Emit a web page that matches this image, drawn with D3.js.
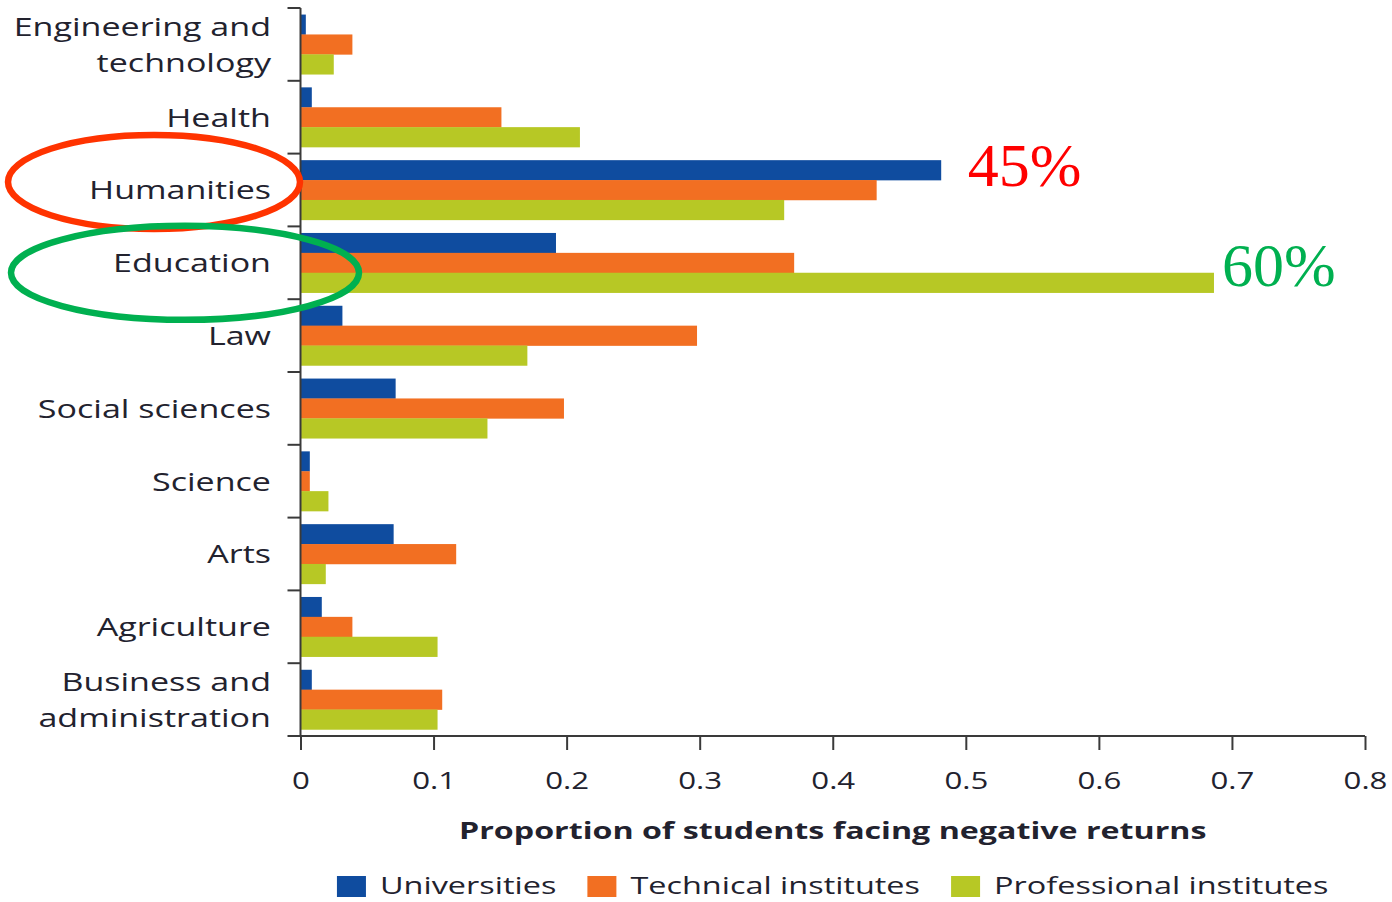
<!DOCTYPE html>
<html>
<head>
<meta charset="utf-8">
<script src="https://cdn.jsdelivr.net/npm/d3@7"></script>
<style>
  body { margin: 0; background: #fff; }
  svg text { font-family: 'Open Sans', 'DejaVu Sans', sans-serif; fill: #22222e; }
</style>
</head>
<body>
<div id="chart"></div>
<script>
// Data
var categories = ['Engineering and technology', 'Health', 'Humanities', 'Education', 'Law',
                  'Social sciences', 'Science', 'Arts', 'Agriculture', 'Business and administration'];
var category_lines = [['Engineering and', 'technology'], ['Health'], ['Humanities'], ['Education'], ['Law'],
                      ['Social sciences'], ['Science'], ['Arts'], ['Agriculture'], ['Business and', 'administration']];

var series_names = ['Universities', 'Technical institutes', 'Professional institutes'];
var universities = [0.004, 0.0085, 0.4815, 0.192, 0.0315, 0.0715, 0.007, 0.070, 0.016, 0.0085];
var technical    = [0.039, 0.151, 0.433, 0.371, 0.298, 0.198, 0.007, 0.117, 0.039, 0.1065];
var professional = [0.025, 0.210, 0.3635, 0.6865, 0.1705, 0.1405, 0.021, 0.019, 0.103, 0.103];

var x_ticks       = [0, 0.1, 0.2, 0.3, 0.4, 0.5, 0.6, 0.7, 0.8];
var x_tick_labels = ['0', '0.1', '0.2', '0.3', '0.4', '0.5', '0.6', '0.7', '0.8'];

var annotations = [
    {category: 'Humanities', text: '45%', x_value: 0.5},
    {category: 'Education',  text: '60%', x_value: 0.6865}
];

// Chart params
var svg_width  = 1392;
var svg_height = 902;
var plot_left  = 300.5;
var plot_right = 1365;
var plot_top   = 8;
var plot_bottom = 736;

var colors     = ['#0f4c9f', '#f26f22', '#b7c825'];
var axis_color = '#3a3a3a';

var series_values = [universities, technical, professional];

var svg = d3.select('#chart')
    .append('svg')
    .attr('width', svg_width)
    .attr('height', svg_height);

// widen the glyphs, the source figure was stretched sideways
function stretch(sel, k) {
    sel.each(function() {
        var x = +d3.select(this).attr('x') || 0;
        d3.select(this)
          .attr('transform', 'translate(' + x + ',0) scale(' + k + ',1) translate(' + (-x) + ',0)');
    });
}

// Scales
var x_scale = d3.scaleLinear()
    .domain([0, 0.8])
    .range([plot_left, plot_right]);

var y_scale = d3.scaleBand()
    .domain(categories)
    .range([plot_top, plot_bottom])
    .padding(0);

var y_inner = d3.scaleBand()
    .domain(series_names)
    .range([0, y_scale.bandwidth()])
    .paddingInner(0)
    .paddingOuter(0.33);

// Bars
var groups = svg.selectAll('g.series')
    .data(series_names)
    .enter()
    .append('g')
    .attr('class', 'series')
    .style('fill', function(d, i) { return colors[i]; });

groups.selectAll('rect')
    .data(function(d, i) {
        return categories.map(function(c, j) {
            return {category: c, series: d, value: series_values[i][j]};
        });
    })
    .enter()
    .append('rect')
    .attr('x', x_scale(0))
    .attr('y', function(d) { return y_scale(d.category) + y_inner(d.series); })
    .attr('height', y_inner.bandwidth() + 0.3)
    .attr('width', function(d) { return x_scale(d.value) - x_scale(0); });

// x axis
var x_axis = d3.axisBottom(x_scale)
    .tickValues(x_ticks)
    .tickFormat(function(d, i) { return x_tick_labels[i]; })
    .tickSize(14)
    .tickSizeOuter(0)
    .tickPadding(22);

var x_g = svg.append('g')
    .attr('class', 'x-axis')
    .attr('transform', 'translate(0,' + plot_bottom + ')')
    .call(x_axis);

x_g.select('.domain').remove();
x_g.append('line')
    .attr('x1', plot_left - 13)
    .attr('x2', plot_right)
    .attr('stroke', axis_color)
    .attr('stroke-width', 2);
x_g.selectAll('.tick line').attr('stroke', axis_color).attr('stroke-width', 2);
x_g.selectAll('.tick text')
    .attr('font-size', '24px')
    .style('font-weight', 500);
stretch(x_g.selectAll('.tick text'), 1.3);

// y axis: line plus ticks on band edges
var y_g = svg.append('g').attr('class', 'y-axis');
y_g.append('line')
    .attr('x1', plot_left).attr('x2', plot_left)
    .attr('y1', plot_top).attr('y2', plot_bottom)
    .attr('stroke', axis_color)
    .attr('stroke-width', 2);

y_g.selectAll('line.edge')
    .data(categories)
    .enter()
    .append('line')
    .attr('class', 'edge')
    .attr('x1', plot_left - 13)
    .attr('x2', plot_left)
    .attr('y1', function(d) { return y_scale(d); })
    .attr('y2', function(d) { return y_scale(d); })
    .attr('stroke', axis_color)
    .attr('stroke-width', 2);

// category labels
var line_h = 36;
categories.forEach(function(c, i) {
    var lines = category_lines[i];
    var mid = y_scale(c) + y_scale.bandwidth() / 2 + 9.5;
    var first = mid - (lines.length - 1) * line_h / 2;
    lines.forEach(function(t, j) {
        var label = y_g.append('text')
            .attr('x', 271)
            .attr('y', first + j * line_h)
            .attr('text-anchor', 'end')
            .attr('font-size', '26px')
            .style('font-weight', 500)
            .text(t);
        stretch(label, 1.31);
    });
});

// x axis title
var title = svg.append('text')
    .attr('x', (plot_left + plot_right) / 2)
    .attr('y', 839)
    .attr('text-anchor', 'middle')
    .attr('font-size', '23px')
    .style('font-weight', 'bold')
    .text('Proportion of students facing negative returns');
stretch(title, 1.40);

// legend
var legend_k = 1.41;
var legend = svg.append('g').attr('class', 'legend');
var items = legend.selectAll('g')
    .data(series_names)
    .enter()
    .append('g');

items.append('rect')
    .attr('width', 29)
    .attr('height', 21)
    .attr('y', 876)
    .style('fill', function(d, i) { return colors[i]; });

items.append('text')
    .attr('y', 894)
    .attr('font-size', '23px')
    .style('font-weight', 500)
    .text(function(d) { return d; });

var pos = 0;
var offsets = [];
items.each(function() {
    offsets.push(pos);
    var w = d3.select(this).select('text').node().getComputedTextLength() * legend_k;
    pos += 29 + 14 + w + 31;
});
var legend_width = pos - 31;
var legend_x = (plot_left + plot_right) / 2 - legend_width / 2;
items.each(function(d, i) {
    var g = d3.select(this);
    g.select('rect').attr('x', legend_x + offsets[i]);
    g.select('text').attr('x', legend_x + offsets[i] + 43);
});
stretch(items.selectAll('text'), legend_k);

// annotations
var ann_colors = ['#ff0000', '#00b050'];
annotations.forEach(function(a, i) {
    var cy = y_scale(a.category) + y_scale.bandwidth() / 2;
    svg.append('text')
        .attr('x', x_scale(a.x_value) + (i == 0 ? 2 : 8))
        .attr('y', i == 0 ? cy - 4 : cy + 23)
        .style('font-family', "'Liberation Serif', 'Times New Roman', serif")
        .attr('font-size', '62px')
        .style('fill', ann_colors[i])
        .text(a.text);
});

var hum_mid = y_scale('Humanities') + y_scale.bandwidth() / 2;
var edu_mid = y_scale('Education') + y_scale.bandwidth() / 2;

svg.append('ellipse')
    .attr('cx', 154)
    .attr('cy', hum_mid - 8)
    .attr('rx', 146)
    .attr('ry', 47)
    .attr('fill', 'none')
    .attr('stroke', '#ff3300')
    .attr('stroke-width', 6.5);

svg.append('ellipse')
    .attr('cx', 185)
    .attr('cy', edu_mid + 10)
    .attr('rx', 174)
    .attr('ry', 47)
    .attr('fill', 'none')
    .attr('stroke', '#00b050')
    .attr('stroke-width', 6.5);
</script>
</body>
</html>
